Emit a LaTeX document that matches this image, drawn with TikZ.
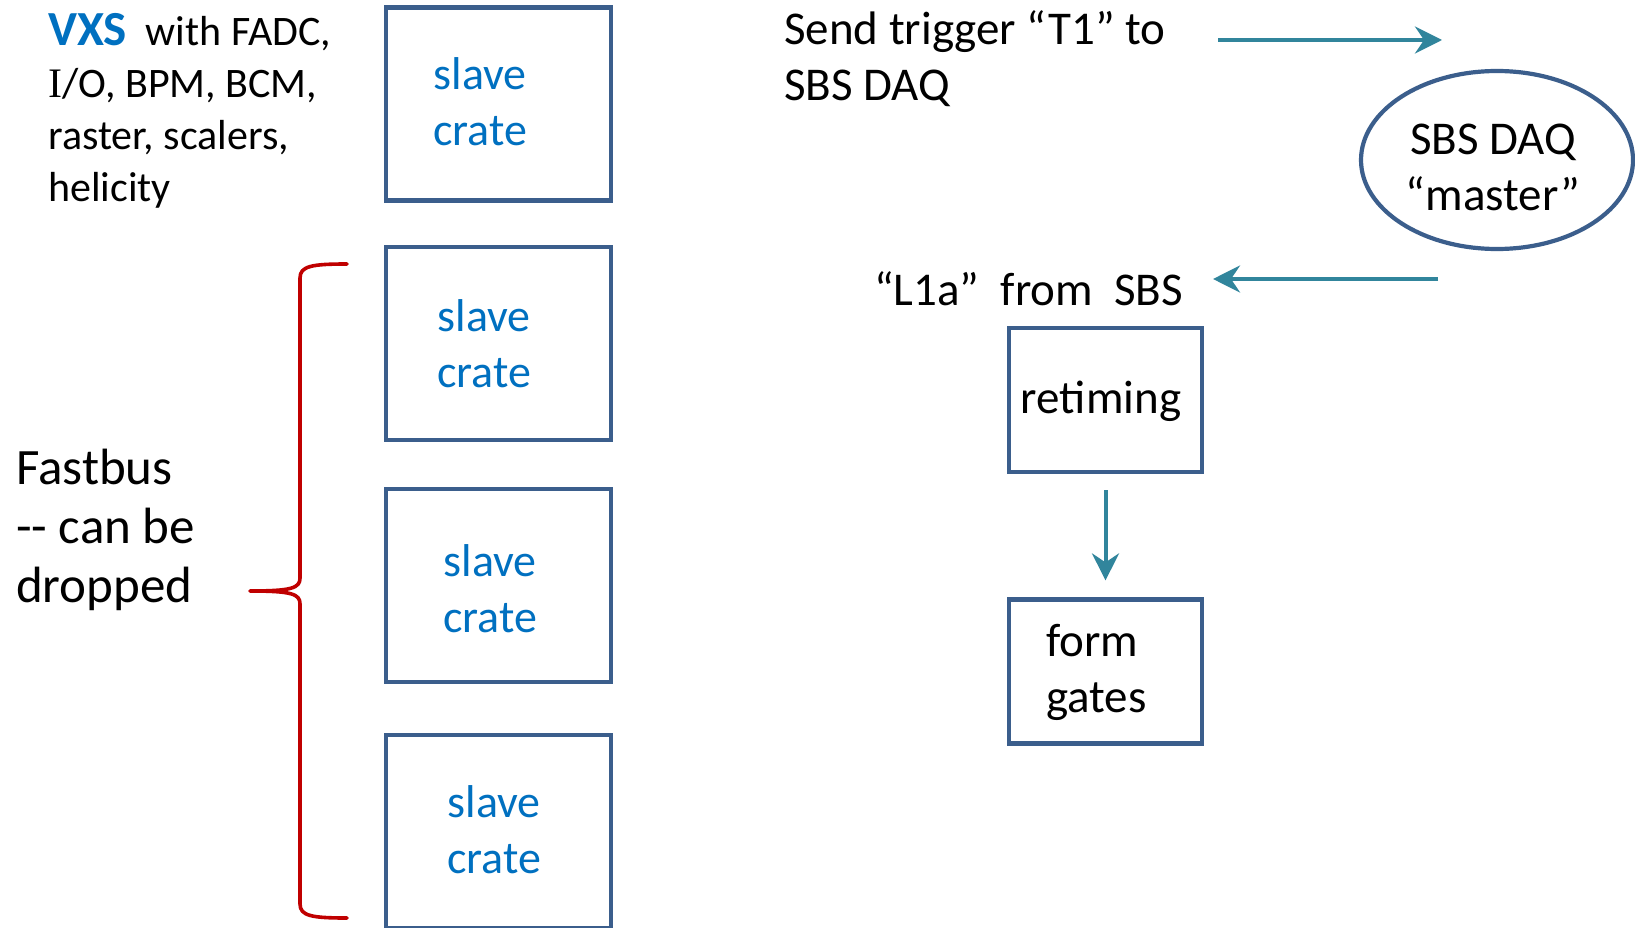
\documentclass[tikz,border=0pt]{standalone}
\usepackage{fontspec}
\setmainfont{Carlito}
\newfontfamily\serifI{Liberation Serif}
\usetikzlibrary{shapes.geometric,arrows.meta}
\definecolor{boxblue}{HTML}{3B5E8C}
\definecolor{txtblue}{HTML}{0070C0}
\definecolor{arrteal}{HTML}{31859C}
\definecolor{bracered}{HTML}{C00000}
\tikzset{
  crate/.style={draw=boxblue, line width=4.2pt, minimum width=225pt, minimum height=193pt, inner sep=0pt},
  cratetext/.style={text=txtblue, align=center, inner sep=0pt, font=\fontsize{46}{56}\selectfont},
  plain/.style={align=left, inner sep=0pt, font=\fontsize{47}{56}\selectfont},
  flow/.style={draw=boxblue, line width=4.2pt, minimum width=193pt, minimum height=144pt, inner sep=0pt},
  tarrow/.style={draw=arrteal, line width=4pt, -{Stealth[length=27pt,width=27pt,inset=9pt]}},
  bracepath/.style={draw=bracered, line width=3.6pt, line cap=round, line join=round}
}
\begin{document}
\begin{tikzpicture}[x=1pt,y=-1pt]
\useasboundingbox (0,0) rectangle (1635,928);
\clip (0,0) rectangle (1635,928);
\fill[white] (0,0) rectangle (1635,928);

% VXS description
\node[align=left, inner sep=0pt, anchor=west, font=\fontsize{42}{52}\selectfont] (vxs) at (48,111)
  {\textcolor{txtblue}{\fontsize{49}{52}\selectfont\textbf{VXS}}\ \ with FADC,\\ {\serifI I}/O, BPM, BCM,\\ raster, scalers,\\ helicity};

% slave crates
\node[crate] (c1) at (498.5,104) {};
\node[cratetext] (t1) at (480,102) {slave\\crate};
\node[crate] (c2) at (498.5,343.5) {};
\node[cratetext] (t2) at (484,344) {slave\\crate};
\node[crate] (c3) at (498.5,585.5) {};
\node[cratetext] (t3) at (490,589) {slave\\crate};
\node[crate] (c4) at (498.5,831.5) {};
\node[cratetext] (t4) at (494,830) {slave\\crate};

% brace
\path[bracepath] (347,264) .. controls (312,264) and (300,266) .. (300,278) -- (300,578)
  .. controls (300,588) and (292,591) .. (250,591)
  .. controls (292,591) and (300,594) .. (300,604) -- (300,904)
  .. controls (300,916) and (312,918) .. (347,918);

% Fastbus text
\node[align=left, inner sep=0pt, anchor=west, font=\fontsize{51}{59}\selectfont] (fb) at (16,530)
  {Fastbus\\-{}- can be\\dropped};

% trigger text and arrow
\node[plain, anchor=west] (send) at (784,59) {Send trigger “T1” to\\SBS DAQ};
\coordinate (t1s) at (1218,40);
\coordinate (t1e) at (1442,40);
\draw[tarrow] (t1s) -- (t1e);

% master ellipse
\node[ellipse, draw=boxblue, line width=4.2pt, minimum width=272pt, minimum height=178pt, inner sep=0pt] (master) at (1497,160) {};
\node[align=center, inner sep=0pt, font=\fontsize{47}{56}\selectfont] (mastert) at (1493,167) {SBS DAQ\\“master”};

% L1a
\coordinate (l1s) at (1438,279);
\coordinate (l1e) at (1213,279);
\draw[tarrow] (l1s) -- (l1e);
\node[plain, anchor=west] (l1a) at (874,289) {“L1a”\ \ from\ \ SBS};

% retiming and form gates
\node[flow] (ret) at (1105.5,400) {};
\node[plain] (rett) at (1101,401) {retiming};
\node[flow] (fg) at (1105.5,671.5) {};
\node[plain, anchor=west] (fgt) at (1046,672) {form\\gates};
\draw[tarrow, shorten <=16pt, shorten >=17pt] (ret.south) -- (fg.north);
\end{tikzpicture}
\end{document}
